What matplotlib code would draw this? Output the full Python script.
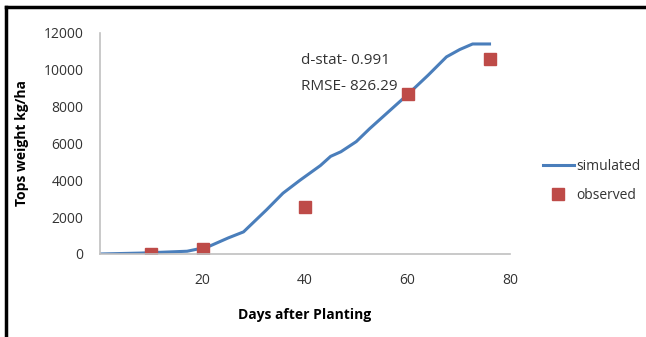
import matplotlib
matplotlib.use("Agg")
import matplotlib.pyplot as plt
from matplotlib.lines import Line2D

plt.rcParams['font.family'] = ['Open Sans', 'DejaVu Sans']

# ── 데이터 ──
sim_days = [0, 8, 17, 21, 25, 28, 32.5, 35.7, 39, 43, 45, 47, 50, 52.6, 56, 60, 64, 67.6, 70.2, 72.7, 76]
sim_wt = [0, 50, 150, 380, 870, 1200, 2400, 3300, 4000, 4800, 5300, 5550, 6100, 6800, 7650, 8650, 9700, 10700, 11100, 11400, 11400]
obs_days = [10, 20, 40, 60, 76]
obs_wt = [0, 250, 2550, 8700, 10600]

x_ticks = [20, 40, 60, 80]
y_ticks = [0, 2000, 4000, 6000, 8000, 10000, 12000]

fig = plt.figure(figsize=(6.46, 3.37), dpi=100)
ax = fig.add_axes([0.1548, 0.2463, 0.6347, 0.656])

ax.plot(sim_days, sim_wt, color='#4a7ebb', linewidth=2.2, label='simulated')
ax.plot(obs_days, obs_wt, linestyle='none', marker='s', markersize=9,
        color='#be4b48', label='observed')

ax.set_xlim(0, 80)
ax.set_ylim(0, 12000)
ax.set_xticks(x_ticks)
ax.set_yticks(y_ticks)
ax.tick_params(length=0, labelsize=10, labelcolor='#333333', pad=12)
ax.tick_params(axis='x', pad=14)
for s in ['top', 'right']:
    ax.spines[s].set_visible(False)
for s in ['left', 'bottom']:
    ax.spines[s].set_color('#c0c0c0')
    ax.spines[s].set_linewidth(1.2)

ax.set_xlabel('Days after Planting', fontsize=10, fontweight='bold', labelpad=14)
ax.set_ylabel('Tops weight kg/ha', fontsize=10, fontweight='bold', labelpad=10)

ax.text(0.49, 0.86, 'd-stat- 0.991', transform=ax.transAxes, fontsize=11, color='#333333')
ax.text(0.49, 0.74, 'RMSE- 826.29', transform=ax.transAxes, fontsize=11, color='#333333')

ax.legend(loc='center left', bbox_to_anchor=(1.05, 0.33), frameon=False,
          fontsize=10, handlelength=2.2, handletextpad=0.2, labelspacing=1.0,
          labelcolor='#333333')

# 바깥 테두리 (왼쪽, 위쪽)
fig.add_artist(Line2D([0.0093, 0.0093], [0, 0.979], transform=fig.transFigure, color='black', linewidth=2.5))
fig.add_artist(Line2D([0.0093, 1.0], [0.979, 0.979], transform=fig.transFigure, color='black', linewidth=2.5))

fig.savefig('out.png', dpi=100)
